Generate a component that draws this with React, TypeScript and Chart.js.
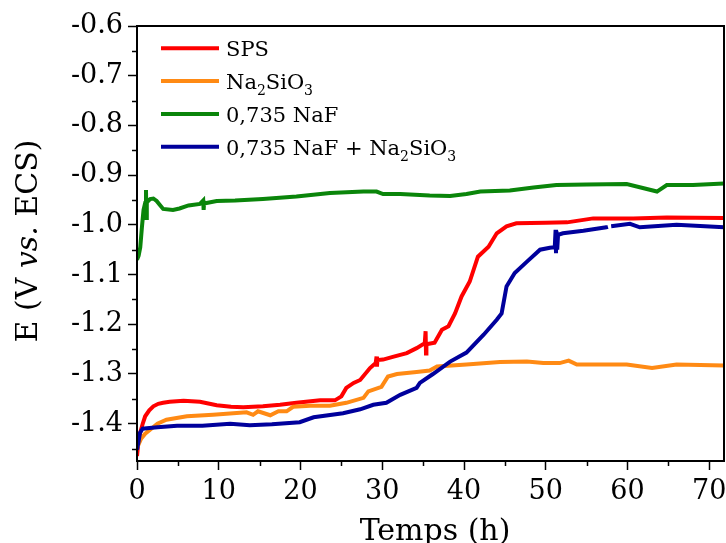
import React, { useEffect, useRef } from "react";
import { Chart, registerables } from "chart.js";

Chart.register(...registerables);

// ---------- Data ----------
const xTickValues = [0, 10, 20, 30, 40, 50, 60, 70];
const yTickValues = [-0.6, -0.7, -0.8, -0.9, -1.0, -1.1, -1.2, -1.3, -1.4];
const xMinorTicks = [5, 15, 25, 35, 45, 55, 65];
const yMinorTicks = [-0.65, -0.75, -0.85, -0.95, -1.05, -1.15, -1.25, -1.35, -1.45];

const seriesLabels = ["SPS", "Na₂SiO₃", "0,735 NaF", "0,735 NaF + Na₂SiO₃"];
const seriesColors = ["#ff0000", "#ff8a14", "#0a850a", "#00009c"];

const spsTime = [0, 0.15, 0.37, 0.7, 1.0, 1.5, 2.0, 2.6, 3.2, 4.0, 5.7, 7.7, 9.75, 11.5, 13, 15.4, 17.5, 19.5, 22.4, 24.2, 25.0, 25.6, 26.5, 27.3, 28.5, 29.2, 29.3, 29.35, 29.4, 30.1, 31.4, 33, 34.2, 35.2, 35.3, 35.35, 35.4, 36.4, 37.3, 38.1, 38.9, 39.7, 40.7, 41.7, 43, 44, 45.2, 46.4, 50, 52.6, 55.8, 60.7, 64.8, 71.8];
const spsPotential = [-1.465, -1.44, -1.419, -1.4, -1.385, -1.373, -1.365, -1.36, -1.358, -1.356, -1.354, -1.356, -1.363, -1.366, -1.367, -1.365, -1.362, -1.358, -1.353, -1.353, -1.345, -1.328, -1.318, -1.312, -1.288, -1.278, -1.265, -1.285, -1.272, -1.271, -1.265, -1.258, -1.248, -1.238, -1.214, -1.259, -1.24, -1.237, -1.211, -1.204, -1.178, -1.144, -1.114, -1.064, -1.044, -1.017, -1.003, -0.997, -0.996, -0.995, -0.987, -0.987, -0.985, -0.986];

const silicateTime = [0, 0.5, 1.0, 1.6, 2.5, 3.6, 6.1, 9.3, 13.4, 14.2, 14.8, 16.3, 17.3, 18.3, 19.1, 21.2, 23.6, 25.6, 27.7, 28.3, 29.9, 30.7, 31.8, 34.2, 35.8, 36.7, 40.3, 44.4, 47.7, 49.7, 51.7, 52.8, 53.8, 59.9, 63, 66, 71.8];
const silicatePotential = [-1.449, -1.43, -1.42, -1.412, -1.4, -1.392, -1.385, -1.382, -1.377, -1.382, -1.375, -1.383, -1.375, -1.375, -1.366, -1.364, -1.364, -1.358, -1.348, -1.335, -1.326, -1.305, -1.3, -1.296, -1.293, -1.285, -1.281, -1.276, -1.275, -1.278, -1.278, -1.273, -1.281, -1.281, -1.288, -1.281, -1.283];

const nafTime = [0, 0.2, 0.4, 0.6, 0.8, 1.0, 1.1, 1.15, 1.2, 1.6, 2.0, 2.4, 2.8, 3.2, 4.4, 5.2, 6.3, 7.7, 8.1, 8.15, 8.2, 9.75, 12, 15.4, 19.5, 23.6, 27.7, 29.3, 30.1, 32.2, 35.8, 38.3, 40.3, 42, 45.6, 48.5, 51.3, 55, 59.9, 63.6, 64.8, 68, 71.8];
const nafPotential = [-1.07, -1.062, -1.045, -1.005, -0.97, -0.956, -0.93, -0.986, -0.955, -0.948, -0.947, -0.952, -0.96, -0.968, -0.97, -0.967, -0.961, -0.958, -0.951, -0.97, -0.957, -0.952, -0.951, -0.948, -0.943, -0.936, -0.933, -0.933, -0.938, -0.938, -0.941, -0.942, -0.938, -0.933, -0.931, -0.925, -0.92, -0.919, -0.918, -0.933, -0.92, -0.92, -0.917];

const mixTime = [0, 0.2, 0.37, 0.7, 1.2, 2.5, 4.9, 8, 11.4, 13.8, 16.5, 19.9, 21.6, 25.2, 27.3, 28.9, 30.5, 32.2, 34.2, 34.6, 36.2, 38.3, 40.3, 42.4, 44, 44.6, 45.2, 46.2, 47.7, 49.3, 50.5, 51.1, 51.2, 51.25, 51.3, 51.4, 51.5, 52.1, 54.6, 57.4, 57.6, 57.8, 58.0, 60.3, 61.5, 66, 71.8];
const mixPotential = [-1.452, -1.435, -1.418, -1.41, -1.409, -1.407, -1.404, -1.404, -1.4, -1.403, -1.401, -1.397, -1.387, -1.379, -1.371, -1.362, -1.358, -1.342, -1.328, -1.318, -1.3, -1.275, -1.257, -1.221, -1.191, -1.178, -1.124, -1.097, -1.074, -1.05, -1.046, -1.045, -1.01, -1.057, -1.012, -1.05, -1.02, -1.017, -1.012, -1.005, -1.004, null, -1.003, -0.998, -1.005, -1.0, -1.005];

const seriesTimes = [spsTime, silicateTime, nafTime, mixTime];
const seriesValues = [spsPotential, silicatePotential, nafPotential, mixPotential];

const FONT = "'DejaVu Serif', 'Liberation Serif', serif";
const TITLE_SIZE = 30;

function drawRich(ctx: CanvasRenderingContext2D, text: string, x: number, y: number, size: number) {
  const subs = "₀₁₂₃₄₅₆₇₈₉";
  let cx = x;
  let buf = "";
  const flush = () => {
    if (!buf) return;
    ctx.font = `${size}px ${FONT}`;
    ctx.fillText(buf, cx, y);
    cx += ctx.measureText(buf).width;
    buf = "";
  };
  for (const ch of text) {
    const idx = subs.indexOf(ch);
    if (idx >= 0) {
      flush();
      const s = Math.round(size * 0.68);
      ctx.font = `${s}px ${FONT}`;
      ctx.fillText(String(idx), cx, y + 6);
      cx += ctx.measureText(String(idx)).width;
    } else {
      buf += ch;
    }
  }
  flush();
}

const decorPlugin = {
  id: "decor",
  afterDraw(chart: any) {
    const { ctx, chartArea: a, scales } = chart;
    ctx.save();
    ctx.strokeStyle = "#000";
    ctx.fillStyle = "#000";
    // frame
    ctx.lineWidth = 2;
    ctx.strokeRect(a.left, a.top, a.right - a.left, a.bottom - a.top);
    // minor ticks
    ctx.lineWidth = 1.5;
    for (const v of xMinorTicks) {
      const px = Math.round(scales.x.getPixelForValue(v)) + 0.5;
      ctx.beginPath();
      ctx.moveTo(px, a.bottom);
      ctx.lineTo(px, a.bottom + 5);
      ctx.stroke();
    }
    for (const v of yMinorTicks) {
      const py = Math.round(scales.y.getPixelForValue(v)) + 0.5;
      ctx.beginPath();
      ctx.moveTo(a.left, py);
      ctx.lineTo(a.left - 5, py);
      ctx.stroke();
    }
    // x title
    ctx.textBaseline = "alphabetic";
    ctx.textAlign = "center";
    ctx.font = `${TITLE_SIZE}px ${FONT}`;
    ctx.fillText("Temps (h)", 435, 540);
    // y title with italic "vs."
    const parts = [
      { t: "E (V ", it: false },
      { t: "vs.", it: true },
      { t: " ECS)", it: false },
    ];
    ctx.textAlign = "left";
    let total = 0;
    for (const p of parts) {
      ctx.font = `${p.it ? "italic " : ""}${TITLE_SIZE}px ${FONT}`;
      total += ctx.measureText(p.t).width;
    }
    ctx.save();
    ctx.translate(37, 241);
    ctx.rotate(-Math.PI / 2);
    let cx = -total / 2;
    for (const p of parts) {
      ctx.font = `${p.it ? "italic " : ""}${TITLE_SIZE}px ${FONT}`;
      ctx.fillText(p.t, cx, 0);
      cx += ctx.measureText(p.t).width;
    }
    ctx.restore();
    // legend
    const ds = chart.data.datasets;
    ds.forEach((d: any, i: number) => {
      const y = 48.3 + i * 32.8;
      ctx.strokeStyle = d.borderColor;
      ctx.lineWidth = 4;
      ctx.lineCap = "butt";
      ctx.beginPath();
      ctx.moveTo(161, y);
      ctx.lineTo(219, y);
      ctx.stroke();
      ctx.fillStyle = "#000";
      ctx.textAlign = "left";
      drawRich(ctx, d.label, 226, y + 8, 21);
    });
    ctx.restore();
  },
};

const zeroPad = (s: any) => {
  s.paddingLeft = 0;
  s.paddingRight = 0;
  s.paddingTop = 0;
  s.paddingBottom = 0;
};

export default function App() {
  const ref = useRef<HTMLCanvasElement>(null);
  useEffect(() => {
    if (!ref.current) return;
    const datasets = seriesLabels.map((label, i) => ({
      label,
      data: seriesTimes[i].map((t, j) => ({ x: t, y: seriesValues[i][j] })),
      borderColor: seriesColors[i],
      backgroundColor: seriesColors[i],
      borderWidth: 4,
      pointRadius: 0,
      tension: 0,
      spanGaps: false,
      fill: false,
      order: i === 3 ? 0 : 4 - i,
    }));
    const tickFont = { family: FONT, size: 27 };
    const chart = new Chart(ref.current, {
      type: "line",
      data: { datasets },
      options: {
        responsive: false,
        animation: false,
        layout: { padding: { top: 26, right: 2, left: 0, bottom: 0 } },
        plugins: { legend: { display: false }, tooltip: { enabled: false } },
        scales: {
          x: {
            type: "linear",
            min: 0,
            max: 71.8,
            afterFit: (s: any) => {
              s.height = 82;
              zeroPad(s);
            },
            afterBuildTicks: (s: any) => {
              s.ticks = xTickValues.map((v) => ({ value: v }));
            },
            grid: { display: true, drawOnChartArea: false, drawTicks: true, tickLength: 9, tickWidth: 1.5, tickColor: "#000" },
            border: { display: true, color: "#000", width: 2 },
            ticks: { font: tickFont, color: "#000", padding: 6, maxRotation: 0, autoSkip: false, callback: (v: any) => String(v) },
          },
          y: {
            type: "linear",
            min: -1.475,
            max: -0.6,
            afterFit: (s: any) => {
              s.width = 137;
              zeroPad(s);
            },
            afterBuildTicks: (s: any) => {
              s.ticks = yTickValues.map((v) => ({ value: v }));
            },
            grid: { display: true, drawOnChartArea: false, drawTicks: true, tickLength: 9, tickWidth: 1.5, tickColor: "#000" },
            border: { display: true, color: "#000", width: 2 },
            ticks: { font: tickFont, color: "#000", padding: 5, autoSkip: false, callback: (v: any) => Number(v).toFixed(1) },
          },
        },
      },
      plugins: [decorPlugin],
    } as any);
    return () => chart.destroy();
  }, []);
  return (
    <div style={{ position: "absolute", left: 0, top: 0, width: 726, height: 543, background: "#fff" }}>
      <canvas ref={ref} width={726} height={543} style={{ display: "block" }} />
    </div>
  );
}
